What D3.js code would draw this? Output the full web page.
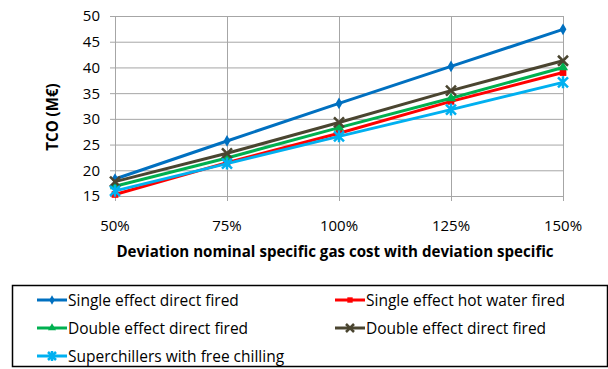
<!DOCTYPE html>
<html>
<head>
<meta charset="utf-8">
<script src="https://cdn.jsdelivr.net/npm/d3@7"></script>
<style>
  body { margin: 0; background: #fff; }
  svg text { font-family: "Open Sans", sans-serif; fill: #000; }
</style>
</head>
<body>
<div id="chart"></div>
<script>
// categories and series
const categories = ["50%", "75%", "100%", "125%", "150%"];
const yTicks = [15, 20, 25, 30, 35, 40, 45, 50];

const singleDirect = [18.3, 25.7, 33.0, 40.2, 47.4];
const singleHotWater = [15.3, 21.5, 27.2, 33.4, 39.0];
const doubleDirect = [16.9, 22.4, 28.3, 34.0, 40.0];
const doubleDirect2 = [17.8, 23.3, 29.3, 35.5, 41.3];
const superchillers = [16.0, 21.3, 26.6, 31.8, 37.1];

const seriesNames = [
  "Single effect direct fired",
  "Single effect hot water fired",
  "Double effect direct fired",
  "Double effect direct fired",
  "Superchillers with free chilling"
];

const series = [
  {name: seriesNames[0], values: singleDirect, color: "#0070c0", marker: "diamond"},
  {name: seriesNames[1], values: singleHotWater, color: "#ff0000", marker: "square"},
  {name: seriesNames[2], values: doubleDirect, color: "#00b050", marker: "triangle"},
  {name: seriesNames[3], values: doubleDirect2, color: "#4a4530", marker: "cross"},
  {name: seriesNames[4], values: superchillers, color: "#00b0f0", marker: "star"}
];

const W = 608, H = 369;
const plot = {left: 115, right: 563, top: 16, bottom: 196};

const svg = d3.select("#chart").append("svg")
  .attr("width", W)
  .attr("height", H);

const x = d3.scalePoint()
  .domain(categories)
  .range([plot.left, plot.right]);

const y = d3.scaleLinear()
  .domain([15, 50])
  .range([plot.bottom, plot.top]);

// gridlines
svg.append("g")
  .attr("transform", "translate(" + plot.left + ",0)")
  .call(d3.axisLeft(y).tickValues(yTicks).tickSize(-(plot.right - plot.left)).tickFormat(""))
  .call(g => g.select(".domain").remove())
  .call(g => g.selectAll(".tick line").attr("stroke", "#a6a6a6").attr("x1", -5));

svg.append("g")
  .attr("transform", "translate(0," + plot.bottom + ")")
  .call(d3.axisBottom(x).tickSize(-(plot.bottom - plot.top)).tickFormat(""))
  .call(g => g.select(".domain").remove())
  .call(g => g.selectAll(".tick line").attr("stroke", "#a6a6a6").attr("y1", 5));

// tick labels
svg.append("g").selectAll("text")
  .data(yTicks)
  .join("text")
  .attr("x", 100)
  .attr("y", d => y(d))
  .attr("dy", "0.36em")
  .attr("text-anchor", "end")
  .style("font-size", "15px")
  .text(d => d);

svg.append("g").selectAll("text")
  .data(categories)
  .join("text")
  .attr("x", d => x(d))
  .attr("y", 231)
  .attr("text-anchor", "middle")
  .style("font-size", "15px")
  .text(d => d);

// axis titles
svg.append("text")
  .attr("text-anchor", "middle")
  .attr("x", 335)
  .attr("y", 257)
  .style("font-size", "15.1px")
  .style("font-weight", "bold")
  .text("Deviation nominal specific gas cost with deviation specific");

svg.append("text")
  .attr("text-anchor", "middle")
  .attr("transform", "translate(58,117) rotate(-90)")
  .style("font-size", "15.1px")
  .style("font-weight", "bold")
  .text("TCO (M€)");

// markers
function markerPath(type, small) {
  const k = small ? 0.8 : 1;
  if (type === "diamond") return d3.symbol(d3.symbolDiamond, 40 * k * k)();
  if (type === "square") return d3.symbol(d3.symbolSquare, 45 * k * k)();
  if (type === "triangle") return d3.symbol(d3.symbolTriangle, 45 * k * k)();
  const r = 5 * k;
  if (type === "cross") return `M${-r},${-r}L${r},${r}M${-r},${r}L${r},${-r}`;
  return `M${-r},${-r}L${r},${r}M${-r},${r}L${r},${-r}M0,${-r - 1}L0,${r + 1}`;
}

function drawMarker(sel, s, small) {
  const stroked = s.marker === "cross" || s.marker === "star";
  sel.attr("d", markerPath(s.marker, small))
    .attr("fill", stroked ? "none" : s.color)
    .attr("stroke", stroked ? s.color : "none")
    .attr("stroke-width", stroked ? 2.5 : 0);
}

const line = d3.line()
  .x((d, i) => x(categories[i]))
  .y(d => y(d));

series.forEach(s => {
  const g = svg.append("g");
  g.append("path")
    .attr("d", line(s.values))
    .attr("fill", "none")
    .attr("stroke", s.color)
    .attr("stroke-width", 3);
  g.selectAll("path.m")
    .data(s.values)
    .join("path")
    .attr("class", "m")
    .attr("transform", (d, i) => "translate(" + x(categories[i]) + "," + y(d) + ")")
    .call(sel => drawMarker(sel, s, false));
});

// legend
svg.append("rect")
  .attr("x", 12.5)
  .attr("y", 285.5)
  .attr("width", 595)
  .attr("height", 81)
  .attr("fill", "#fff")
  .attr("stroke", "#000")
  .attr("stroke-width", 1.5);

const legendPos = [[37, 300], [335, 300], [37, 328], [335, 328], [37, 356]];

series.forEach((s, i) => {
  const [lx, ly] = legendPos[i];
  const g = svg.append("g").attr("transform", "translate(" + lx + "," + ly + ")");
  g.append("line")
    .attr("x1", 0).attr("x2", 30)
    .attr("stroke", s.color)
    .attr("stroke-width", 3);
  g.append("path")
    .attr("transform", "translate(15,0)")
    .call(sel => drawMarker(sel, s, true));
  g.append("text")
    .attr("x", 31)
    .attr("dy", "0.36em")
    .style("font-size", "15.5px")
    .text(s.name);
});
</script>
</body>
</html>
